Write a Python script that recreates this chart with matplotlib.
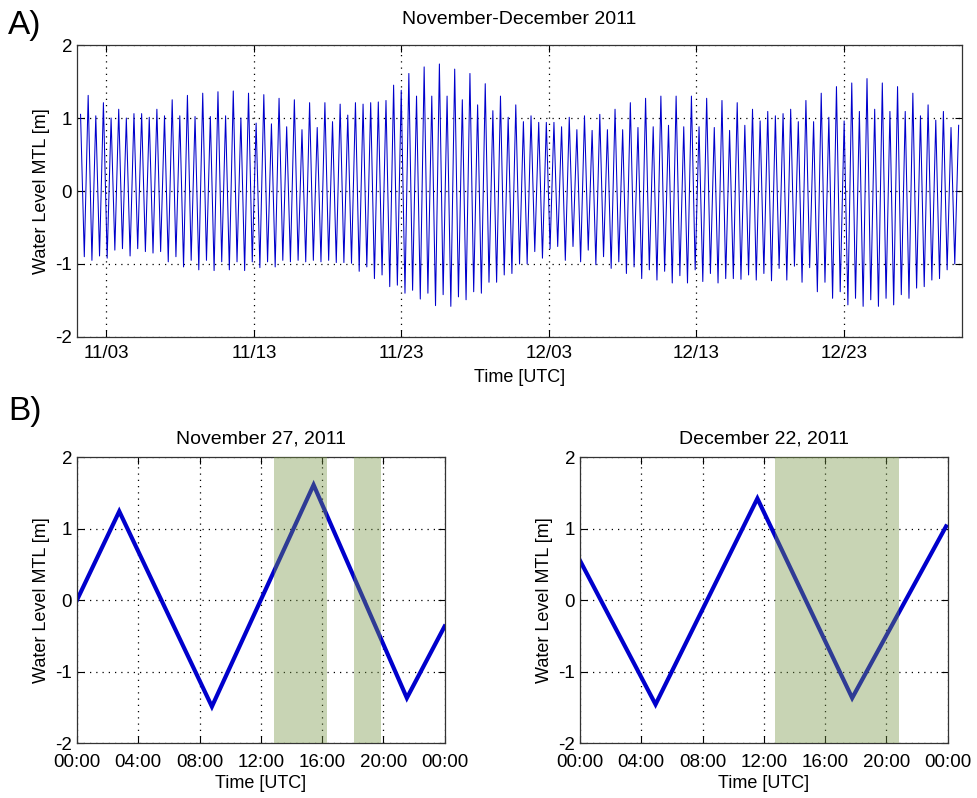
import numpy as np
import pandas as pd
import matplotlib
matplotlib.use('Agg')
import matplotlib.pyplot as plt
import matplotlib.dates as mdates

# --- data ---
# A) high / low water, hours after 2011-11-01 00:00 UTC, level in m (MTL)
high_hours = [5.8, 18.2, 30.6, 43.0, 55.5, 67.9, 80.3, 92.7, 105.2, 117.6,
              130.0, 142.4, 154.9, 167.3, 179.7, 192.1, 204.6, 217.0, 229.4, 241.8,
              254.3, 266.7, 279.1, 291.5, 304.0, 316.4, 328.8, 341.2, 353.7, 366.1,
              378.5, 390.9, 403.4, 415.8, 428.2, 440.6, 453.1, 465.5, 477.9, 490.3,
              502.8, 515.2, 527.6, 540.0, 552.5, 564.9, 577.3, 589.7, 602.2, 614.6,
              627.0, 639.4, 651.9, 664.3, 676.7, 689.1, 701.6, 714.0, 726.4, 738.8,
              751.3, 763.7, 776.1, 788.5, 801.0, 813.4, 825.8, 838.2, 850.7, 863.1,
              875.5, 887.9, 900.4, 912.8, 925.2, 937.6, 950.1, 962.5, 974.9, 987.3,
              999.8, 1012.2, 1024.6, 1037.0, 1049.5, 1061.9, 1074.3, 1086.7, 1099.2, 1111.6,
              1124.0, 1136.4, 1148.9, 1161.3, 1173.7, 1186.1, 1198.6, 1211.0, 1223.4, 1235.8,
              1248.3, 1260.7, 1273.1, 1285.5, 1298.0, 1310.4, 1322.8, 1335.2, 1347.7, 1360.1,
              1372.5, 1384.9, 1397.4, 1409.8, 1422.2, 1434.6]
high_levels = [1.05, 1.31, 1.03, 1.21, 1.00, 1.12, 1.00, 1.06, 1.06, 1.01,
               1.12, 1.03, 1.25, 1.03, 1.31, 1.02, 1.34, 1.02, 1.36, 1.03,
               1.37, 1.00, 1.34, 0.93, 1.32, 0.92, 1.27, 0.88, 1.25, 0.84,
               1.21, 0.87, 1.21, 0.95, 1.19, 1.04, 1.21, 1.19, 1.21, 1.22,
               1.24, 1.45, 1.38, 1.61, 1.30, 1.70, 1.30, 1.74, 1.30, 1.67,
               1.25, 1.61, 1.18, 1.47, 1.10, 1.30, 1.01, 1.18, 0.95, 1.03,
               0.94, 0.94, 0.94, 0.88, 1.01, 0.84, 1.03, 0.83, 1.05, 0.84,
               1.12, 0.84, 1.21, 0.87, 1.27, 0.88, 1.30, 0.90, 1.30, 0.88,
               1.30, 0.88, 1.27, 0.87, 1.24, 0.83, 1.21, 0.90, 1.12, 0.96,
               1.09, 1.03, 1.06, 1.12, 0.95, 1.24, 0.95, 1.34, 1.01, 1.43,
               0.96, 1.48, 1.09, 1.54, 1.12, 1.48, 1.09, 1.43, 1.09, 1.34,
               1.03, 1.18, 0.97, 1.09, 0.87, 0.90]
low_hours = [11.9, 24.3, 36.7, 49.1, 61.6, 74.0, 86.4, 98.8, 111.3, 123.7,
             136.1, 148.5, 161.0, 173.4, 185.8, 198.2, 210.7, 223.1, 235.5, 247.9,
             260.4, 272.8, 285.2, 297.6, 310.1, 322.5, 334.9, 347.3, 359.8, 372.2,
             384.6, 397.0, 409.5, 421.9, 434.3, 446.7, 459.2, 471.6, 484.0, 496.4,
             508.9, 521.3, 533.7, 546.1, 558.6, 571.0, 583.4, 595.8, 608.3, 620.7,
             633.1, 645.5, 658.0, 670.4, 682.8, 695.2, 707.7, 720.1, 732.5, 744.9,
             757.4, 769.8, 782.2, 794.6, 807.1, 819.5, 831.9, 844.3, 856.8, 869.2,
             881.6, 894.0, 906.5, 918.9, 931.3, 943.7, 956.2, 968.6, 981.0, 993.4,
             1005.9, 1018.3, 1030.7, 1043.1, 1055.6, 1068.0, 1080.4, 1092.8, 1105.3, 1117.7,
             1130.1, 1142.5, 1155.0, 1167.4, 1179.8, 1192.2, 1204.7, 1217.1, 1229.5, 1241.9,
             1254.4, 1266.8, 1279.2, 1291.6, 1304.1, 1316.5, 1328.9, 1341.3, 1353.8, 1366.2,
             1378.6, 1391.0, 1403.5, 1415.9, 1428.3]
low_levels = [-0.90, -0.95, -0.89, -0.92, -0.81, -0.79, -0.89, -0.79, -0.83, -0.85,
              -0.83, -0.97, -0.90, -1.04, -0.95, -1.08, -0.95, -1.09, -0.97, -1.08,
              -0.97, -1.09, -0.97, -1.05, -0.97, -1.04, -0.95, -0.97, -0.95, -0.97,
              -0.95, -0.97, -0.95, -0.98, -0.98, -0.99, -1.10, -1.04, -1.20, -1.15,
              -1.31, -1.29, -1.40, -1.36, -1.48, -1.40, -1.57, -1.42, -1.58, -1.45,
              -1.49, -1.38, -1.40, -1.25, -1.25, -1.15, -1.13, -1.00, -1.00, -0.83,
              -0.92, -0.79, -0.76, -0.95, -0.76, -0.97, -0.81, -1.01, -0.90, -1.06,
              -0.97, -1.13, -1.04, -1.20, -1.08, -1.22, -1.10, -1.26, -1.16, -1.26,
              -1.08, -1.24, -1.13, -1.26, -1.20, -1.20, -1.21, -1.15, -1.22, -1.13,
              -1.23, -1.06, -1.22, -1.03, -1.25, -1.05, -1.38, -1.25, -1.47, -1.38,
              -1.56, -1.47, -1.58, -1.49, -1.58, -1.47, -1.56, -1.42, -1.47, -1.33,
              -1.31, -1.22, -1.20, -1.08, -1.00]

# B) single days, hours UTC
nov27_hours = [0.0, 2.76, 8.81, 15.45, 21.54, 24.0]
nov27_levels = [0.0, 1.24, -1.49, 1.61, -1.37, -0.37]
nov27_spans = [(12.84, 16.32), (18.10, 19.84)]

dec22_hours = [0.0, 4.93, 11.58, 17.77, 23.9]
dec22_levels = [0.55, -1.46, 1.42, -1.37, 1.03]
dec22_spans = [(12.71, 20.85)]

hour_ticks = [0, 4, 8, 12, 16, 20, 24]
hour_labels = ['00:00', '04:00', '08:00', '12:00', '16:00', '20:00', '00:00']

plt.rcParams['font.family'] = ['Liberation Sans', 'DejaVu Sans']
plt.rcParams['axes.unicode_minus'] = False

LINE = '#0000CC'
SPAN = (118 / 255, 148 / 255, 68 / 255)


def matlab_style(ax, xpad, xlabelpad):
    ax.grid(True, color='black', linestyle=(0, (1, 4)), linewidth=0.9)
    ax.tick_params(direction='in', top=True, right=True, length=5, labelsize=13.5)
    ax.tick_params(axis='x', pad=xpad)
    for s in ax.spines.values():
        s.set_linewidth(0.9)
        s.set_color('#333333')
    ax.set_ylim(-2, 2)
    ax.set_yticks([-2, -1, 0, 1, 2])
    ax.set_ylabel('Water Level MTL [m]', fontsize=13, labelpad=4)
    ax.set_xlabel('Time [UTC]', fontsize=13, labelpad=xlabelpad)


fig = plt.figure(figsize=(9.77, 7.98), dpi=100)

# --- A) two months ---
start = pd.Timestamp('2011-11-01')
hw = pd.Series(high_levels, index=start + pd.to_timedelta(high_hours, unit='h'))
lw = pd.Series(low_levels, index=start + pd.to_timedelta(low_hours, unit='h'))
tide = pd.concat([hw, lw]).sort_index()

ax_a = fig.add_axes([0.0788, 0.5777, 0.9058, 0.3659])
ax_a.plot(tide.index, tide.values, color=LINE, linewidth=0.75)
ax_a.set_xlim(pd.Timestamp('2011-11-01'), pd.Timestamp('2011-12-31'))
ax_a.set_xticks(pd.to_datetime(['2011-11-03', '2011-11-13', '2011-11-23',
                                '2011-12-03', '2011-12-13', '2011-12-23']))
ax_a.xaxis.set_major_formatter(mdates.DateFormatter('%m/%d'))
matlab_style(ax_a, 6, 5)
ax_a.set_title('November-December 2011', fontsize=14, pad=15)

# --- B) two single days ---
panels = [(0.0788, nov27_hours, nov27_levels, nov27_spans, 'November 27, 2011'),
          (0.5937, dec22_hours, dec22_levels, dec22_spans, 'December 22, 2011')]
for left, hrs, lev, spans, title in panels:
    ax = fig.add_axes([left, 0.0689, 0.3762, 0.3584])
    ax.plot(hrs, lev, color=LINE, linewidth=3, solid_joinstyle='miter')
    for a, b in spans:
        ax.axvspan(a, b, color=SPAN, alpha=0.4, linewidth=0, zorder=3)
    ax.set_xlim(0, 24)
    ax.set_xticks(hour_ticks)
    ax.set_xticklabels(hour_labels)
    matlab_style(ax, 8, 3)
    ax.set_title(title, fontsize=14, pad=10)

fig.text(0.008, 1 - 34 / 798, 'A)', fontsize=24, va='baseline')
fig.text(0.008, 1 - 420 / 798, 'B)', fontsize=24, va='baseline')

fig.savefig('out.png', dpi=100)
